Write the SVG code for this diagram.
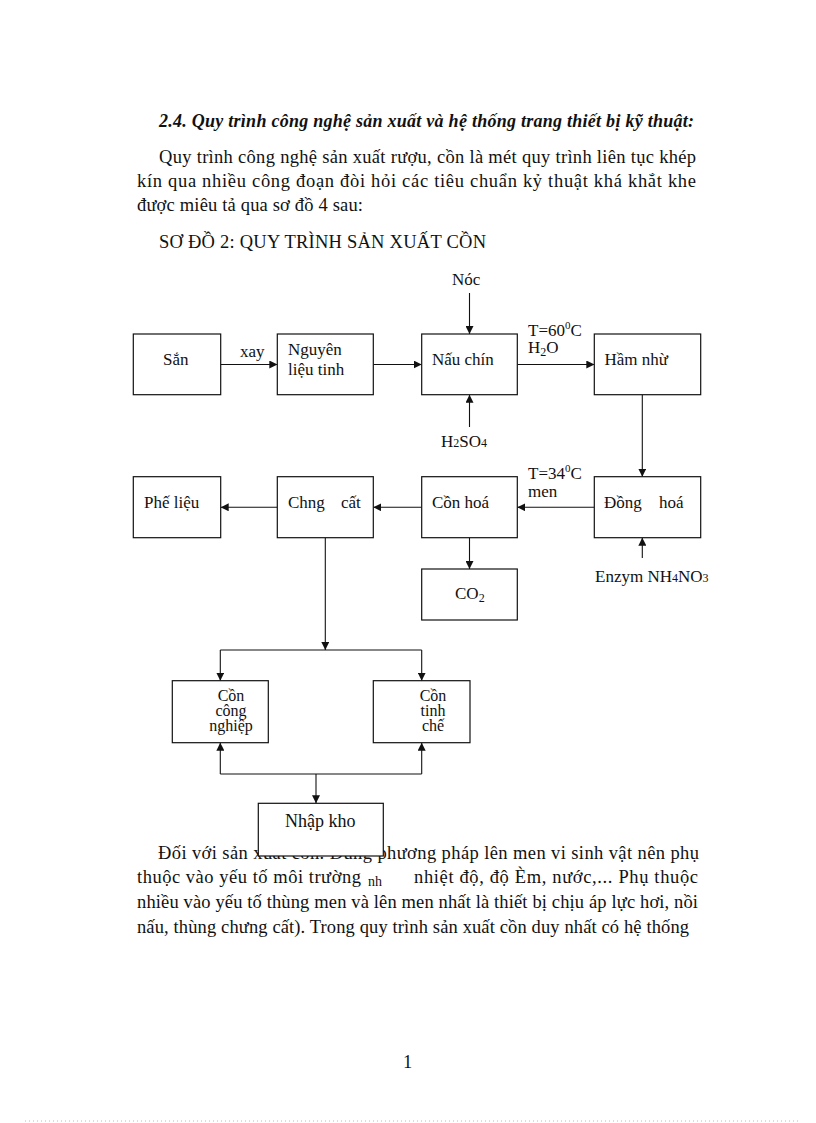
<svg xmlns="http://www.w3.org/2000/svg" width="816" height="1123" viewBox="0 0 816 1123">
<style>
text{font-family:"Liberation Serif","Times New Roman",serif;fill:#111;}
.t{font-size:17px;}
.p{font-size:18.5px;}
.h{font-size:18px;font-weight:bold;font-style:italic;}
.s{font-size:16px;}
.box{fill:#fff;stroke:#111;stroke-width:1.2;}
.c{fill:none;stroke:#111;stroke-width:1.1;}
</style>
<defs>
<marker id="ah" viewBox="0 0 10 10" refX="10" refY="5" markerWidth="8" markerHeight="8" markerUnits="userSpaceOnUse" orient="auto">
<path d="M0,0 L10,5 L0,10 z" fill="#111"/>
</marker>
</defs>
<rect width="816" height="1123" fill="#fff"/>

<g id="header-text">
<text class="h" x="159" y="127" textLength="535">2.4. Quy trình công nghệ sản xuất và hệ thống trang thiết bị kỹ thuật:</text>
<text class="p" x="159" y="163" textLength="537">Quy trình công nghệ sản xuất rượu, cồn là mét quy trình liên  tục khép</text>
<text class="p" x="137" y="187" textLength="559">kín qua nhiều  công đoạn đòi hỏi các tiêu  chuẩn kỷ thuật khá khắt khe</text>
<text class="p" x="137" y="211" textLength="226">được miêu tả qua sơ đồ 4 sau:</text>
<text class="p" x="159" y="248" textLength="327">SƠ ĐỒ 2: QUY TRÌNH SẢN XUẤT CỒN</text>
</g>

<g id="connectors">
<line class="c" x1="469.5" y1="293" x2="469.5" y2="334" marker-end="url(#ah)"/>
<line class="c" x1="469.5" y1="427" x2="469.5" y2="394.7" marker-end="url(#ah)"/>
<line class="c" x1="220.7" y1="364.5" x2="277.3" y2="364.5" marker-end="url(#ah)"/>
<line class="c" x1="373.3" y1="364.5" x2="421.7" y2="364.5" marker-end="url(#ah)"/>
<line class="c" x1="517.3" y1="364.5" x2="594.3" y2="364.5" marker-end="url(#ah)"/>
<line class="c" x1="642.3" y1="394.7" x2="642.3" y2="476.7" marker-end="url(#ah)"/>
<line class="c" x1="594.3" y1="507.3" x2="517.3" y2="507.3" marker-end="url(#ah)"/>
<line class="c" x1="421.7" y1="507.3" x2="373.3" y2="507.3" marker-end="url(#ah)"/>
<line class="c" x1="277.3" y1="507.3" x2="220.7" y2="507.3" marker-end="url(#ah)"/>
<line class="c" x1="642.3" y1="558" x2="642.3" y2="537.7" marker-end="url(#ah)"/>
<line class="c" x1="469.5" y1="537.7" x2="469.5" y2="569" marker-end="url(#ah)"/>
<line class="c" x1="325.3" y1="537.7" x2="325.3" y2="650" marker-end="url(#ah)"/>
<line class="c" x1="220.3" y1="650" x2="421.7" y2="650"/>
<line class="c" x1="220.3" y1="650" x2="220.3" y2="680.7" marker-end="url(#ah)"/>
<line class="c" x1="421.7" y1="650" x2="421.7" y2="680.7" marker-end="url(#ah)"/>
<line class="c" x1="220.3" y1="774" x2="421.7" y2="774"/>
<line class="c" x1="220.3" y1="774" x2="220.3" y2="742.7" marker-end="url(#ah)"/>
<line class="c" x1="421.7" y1="774" x2="421.7" y2="742.7" marker-end="url(#ah)"/>
<line class="c" x1="316" y1="774" x2="316" y2="803.3" marker-end="url(#ah)"/>
</g>

<g id="labels">
<text class="t" x="452" y="285">Nóc</text>
<text class="t" x="441" y="447">H<tspan font-size="12">2</tspan>SO<tspan font-size="12">4</tspan></text>
<text class="t" x="240" y="357">xay</text>
<text class="t" x="528" y="336">T=60<tspan font-size="11" dy="-7">0</tspan><tspan dy="7">C</tspan></text>
<text class="t" x="528" y="353">H<tspan font-size="12" dy="3">2</tspan><tspan dy="-3">O</tspan></text>
<text class="t" x="528" y="479">T=34<tspan font-size="11" dy="-7">0</tspan><tspan dy="7">C</tspan></text>
<text class="t" x="528" y="497">men</text>
<text class="t" x="595" y="582">Enzym NH<tspan font-size="12">4</tspan>NO<tspan font-size="12">3</tspan></text>
</g>

<g id="node-san">
<rect class="box" x="133.3" y="334" width="87.4" height="60.7"/>
<text class="t" x="163" y="365">Sắn</text>
</g>
<g id="node-nguyen-lieu">
<rect class="box" x="277.3" y="334" width="96" height="60.7"/>
<text class="t" x="288" y="355">Nguyên</text>
<text class="t" x="288" y="375">liệu tinh</text>
</g>
<g id="node-nau-chin">
<rect class="box" x="421.7" y="334" width="95.6" height="60.7"/>
<text class="t" x="432" y="365">Nấu chín</text>
</g>
<g id="node-ham-nhu">
<rect class="box" x="594.3" y="334" width="106.4" height="60.7"/>
<text class="t" x="604.5" y="365">Hầm nhừ</text>
</g>

<g id="node-phe-lieu">
<rect class="box" x="133.3" y="476.7" width="87.4" height="61"/>
<text class="t" x="144" y="508">Phế liệu</text>
</g>
<g id="node-chung-cat">
<rect class="box" x="277.3" y="476.7" width="96" height="61"/>
<text class="t" x="288" y="508">Chng</text>
<text class="t" x="341" y="508">cất</text>
</g>
<g id="node-con-hoa">
<rect class="box" x="421.7" y="476.7" width="95.6" height="61"/>
<text class="t" x="432" y="508">Cồn hoá</text>
</g>
<g id="node-dong-hoa">
<rect class="box" x="594.3" y="476.7" width="106.4" height="61"/>
<text class="t" x="604" y="508">Đồng</text>
<text class="t" x="659" y="508">hoá</text>
</g>
<g id="node-co2">
<rect class="box" x="421.7" y="569" width="95.6" height="51"/>
<text class="t" x="455" y="599">CO<tspan font-size="12" dy="3">2</tspan></text>
</g>

<g id="node-con-cong-nghiep">
<rect class="box" x="172.3" y="680.7" width="96" height="62"/>
<text class="s" x="231" y="701" text-anchor="middle">Cồn</text>
<text class="s" x="231" y="716" text-anchor="middle">công</text>
<text class="s" x="231" y="731" text-anchor="middle">nghiệp</text>
</g>
<g id="node-con-tinh-che">
<rect class="box" x="373.3" y="680.7" width="96.7" height="62"/>
<text class="s" x="433" y="701" text-anchor="middle">Cồn</text>
<text class="s" x="433" y="716" text-anchor="middle">tinh</text>
<text class="s" x="433" y="731" text-anchor="middle">chế</text>
</g>

<g id="body-text">
<text class="p" x="158" y="859" textLength="541">Đối với sản xuất cồn. Dùng phương pháp lên men vi sinh vật nên phụ</text>
<text class="p" x="137" y="883" textLength="224">thuộc vào yếu tố môi trường</text>
<text x="368" y="886" font-size="14">nh</text>
<text class="p" x="414" y="883" textLength="284">nhiệt  độ, độ Èm, nước,... Phụ thuộc</text>
<text class="p" x="137" y="908" textLength="561">nhiều vào yếu tố thùng men và lên men nhất là thiết bị chịu áp lực hơi, nồi</text>
<text class="p" x="137" y="933" textLength="552">nấu, thùng chưng cất). Trong quy trình sản xuất cồn duy nhất có hệ thống</text>
</g>

<g id="node-nhap-kho">
<rect class="box" x="258.3" y="803.3" width="125" height="52.7"/>
<text x="285" y="827" font-size="18">Nhập kho</text>
</g>

<g id="page-footer">
<text class="p" x="403" y="1068">1</text>
<line x1="25" y1="1121" x2="800" y2="1121" stroke="#bbb" stroke-width="1" stroke-dasharray="1,3"/>
</g>
</svg>
